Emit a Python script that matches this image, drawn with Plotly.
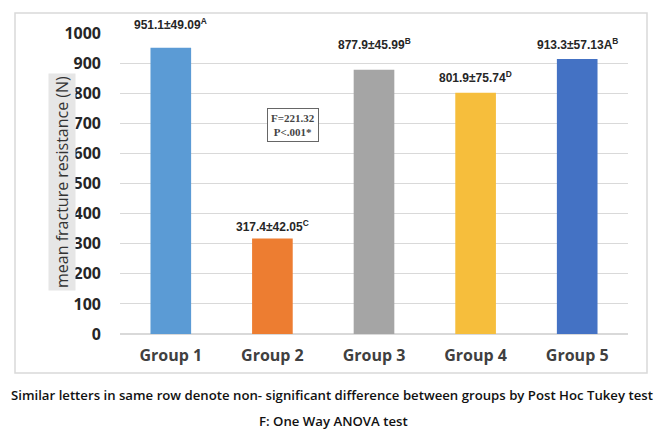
import plotly.graph_objects as go

groups = ["Group 1", "Group 2", "Group 3", "Group 4", "Group 5"]
means = [951.1, 317.4, 877.9, 801.9, 913.3]
sds = [49.09, 42.05, 45.99, 75.74, 57.13]
letters = ["A", "C", "B", "D", "B"]
prefix = ["", "", "", "", "A"]
label_y = [1030, 359, 963, 854, 963]
colors = ["#5B9BD5", "#ED7D31", "#A5A5A5", "#F6BE3C", "#4472C4"]
y_ticks = [0, 100, 200, 300, 400, 500, 600, 700, 800, 900, 1000]

W, H = 669, 445
L, R, T, B = 120, 41, 33, 111
pw = W - L - R
ph = H - T - B

def px_x(p):
    return (p - L) / pw

def px_y(p):
    return (H - B - p) / ph

fig = go.Figure()
fig.add_trace(go.Bar(x=groups, y=means, marker=dict(color=colors, line=dict(width=0)),
                     width=0.4, hoverinfo="x+y"))

for g, m, s, l, pre, ly in zip(groups, means, sds, letters, prefix, label_y):
    fig.add_annotation(x=g, y=ly / 1000, xref="x", yref="paper",
                       text=f"<b>{m:.1f}±{s:.2f}{pre}<sup>{l}</sup></b>",
                       showarrow=False, yanchor="middle",
                       font=dict(family="Liberation Sans, Arial", size=12, color="#262626"))

fig.add_annotation(x=px_x(267), y=px_y(108), xref="paper", yref="paper",
                   text="<b>F=221.32<br>P<.001*</b>", showarrow=False,
                   font=dict(family="Liberation Serif, Times New Roman", size=11, color="#444"),
                   bordercolor="#666", borderwidth=1, borderpad=3, bgcolor="white")

fig.add_annotation(x=px_x(48), y=px_y(182), xref="paper", yref="paper",
                   text="mean fracture resistance (N)", textangle=-90, showarrow=False,
                   font=dict(family="Open Sans", size=16, color="#333"),
                   bgcolor="#E6E6E6", borderpad=2)

fig.add_annotation(x=px_x(332), y=px_y(406), xref="paper", yref="paper",
                   text="Similar letters in same row denote non- significant difference between groups by Post Hoc Tukey test",
                   showarrow=False, font=dict(family="Open Sans", size=13.2, color="#111", weight=600))
fig.add_annotation(x=px_x(333), y=px_y(432), xref="paper", yref="paper",
                   text="F: One Way ANOVA test",
                   showarrow=False, font=dict(family="Open Sans", size=13.2, color="#111", weight=600))

fig.add_shape(type="rect", xref="paper", yref="paper",
              x0=px_x(15), x1=px_x(647), y0=px_y(373), y1=px_y(13),
              line=dict(color="#D9D9D9", width=1.5), layer="below")

fig.update_layout(
    width=W, height=H,
    margin=dict(l=L, r=R, t=T, b=B),
    paper_bgcolor="white", plot_bgcolor="white",
    showlegend=False,
    bargap=0.6,
)
fig.update_xaxes(range=[-0.5, 4.5], showgrid=False, showline=False, ticks="",
                 ticklabelstandoff=10,
                 tickfont=dict(family="Open Sans", size=16, color="#404040", weight="bold"))
fig.update_yaxes(range=[0, 1000], tickvals=y_ticks, showgrid=True, gridcolor="#D9D9D9",
                 gridwidth=1, zeroline=True, zerolinecolor="#D9D9D9", showline=False,
                 ticks="", ticklabelstandoff=18,
                 tickfont=dict(family="Open Sans", size=16, color="#262626", weight="bold"))

fig.write_html("out.html")
